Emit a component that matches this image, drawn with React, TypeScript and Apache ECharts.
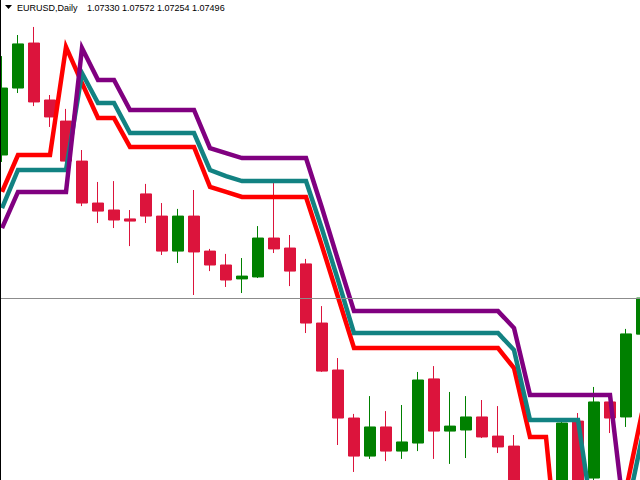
import React, { useEffect, useRef } from "react";
import * as echarts from "echarts";

// Daily EURUSD bars, oldest on the left (the last one is partly cut off at the right edge)
const openP = [
  1.08154, 1.08462, 1.08669, 1.08407, 1.08310, 1.08126, 1.07933, 1.07901, 1.07860, 1.07975,
  1.07873, 1.07712, 1.07873, 1.07712, 1.07648, 1.07584, 1.07593, 1.07772, 1.07726, 1.07653,
  1.07381, 1.07165, 1.06944, 1.06769, 1.06903, 1.06792, 1.06829, 1.07124, 1.06884, 1.06889,
  1.06949, 1.06861, 1.06815, 1.06567, 1.06429, 1.06383, 1.06930, 1.06668, 1.07018, 1.06949,
  1.07330,
];
const closeP = [
  1.08462, 1.08665, 1.08398, 1.08329, 1.08126, 1.07933, 1.07896, 1.07855, 1.07850, 1.07873,
  1.07712, 1.07873, 1.07708, 1.07648, 1.07579, 1.07597, 1.07772, 1.07722, 1.07620, 1.07381,
  1.07160, 1.06944, 1.06769, 1.06903, 1.06792, 1.06834, 1.07119, 1.06884, 1.06907, 1.06949,
  1.06857, 1.06811, 1.06567, 1.06429, 1.06383, 1.06921, 1.06636, 1.07018, 1.06944, 1.07331,
  1.07496,
];
const lowP = [
  1.08122, 1.08439, 1.08379, 1.08283, 1.08117, 1.07919, 1.07841, 1.07818, 1.07735, 1.07841,
  1.07694, 1.07657, 1.07510, 1.07620, 1.07547, 1.07519, 1.07588, 1.07703, 1.07551, 1.07335,
  1.07156, 1.06820, 1.06696, 1.06756, 1.06746, 1.06756, 1.06792, 1.06756, 1.06733, 1.06760,
  1.06852, 1.06783, 1.06521, 1.06360, 1.06291, 1.06346, 1.06590, 1.06636, 1.06875, 1.06903,
  1.07254,
];
const highP = [
  1.08609, 1.08706, 1.08743, 1.08430, 1.08366, 1.08177, 1.08030, 1.08034, 1.07901, 1.08021,
  1.07933, 1.07906, 1.07993, 1.07722, 1.07699, 1.07680, 1.07827, 1.08025, 1.07786, 1.07676,
  1.07459, 1.07220, 1.06963, 1.07045, 1.06976, 1.07004, 1.07156, 1.07183, 1.07064, 1.07045,
  1.07027, 1.06999, 1.06866, 1.06604, 1.06498, 1.06930, 1.06967, 1.07087, 1.07036, 1.07354,
  1.07572,
];

// Three trailing-stop bands
const redBand = [
  1.07984, 1.08154, 1.08154, 1.08154, 1.08651, 1.08485, 1.08324, 1.08324, 1.08191, 1.08191,
  1.08191, 1.08191, 1.08191, 1.08007, 1.07984, 1.07961, 1.07961, 1.07961, 1.07961, 1.07961,
  1.07735, 1.07501, 1.07266, 1.07266, 1.07266, 1.07266, 1.07266, 1.07266, 1.07266, 1.07266,
  1.07266, 1.07266, 1.07174, 1.06857, 1.06857, 1.06107, 1.06107, 1.06153, 1.06245, 1.06613,
  1.06967,
];
const tealBand = [
  1.07910, 1.08085, 1.08085, 1.08085, 1.08085, 1.08531, 1.08393, 1.08393, 1.08255, 1.08255,
  1.08255, 1.08255, 1.08255, 1.08085, 1.08057, 1.08034, 1.08034, 1.08034, 1.08034, 1.08034,
  1.07814, 1.07579, 1.07335, 1.07335, 1.07335, 1.07335, 1.07335, 1.07335, 1.07335, 1.07335,
  1.07335, 1.07335, 1.07257, 1.06935, 1.06935, 1.06935, 1.06935, 1.06443, 1.06199, 1.06498,
  1.06852,
];
const purpleBand = [
  1.07818, 1.07984, 1.07984, 1.07984, 1.07984, 1.08646, 1.08499, 1.08499, 1.08361, 1.08361,
  1.08361, 1.08361, 1.08361, 1.08186, 1.08163, 1.08140, 1.08140, 1.08140, 1.08140, 1.08140,
  1.07910, 1.07671, 1.07436, 1.07436, 1.07436, 1.07436, 1.07436, 1.07436, 1.07436, 1.07436,
  1.07436, 1.07436, 1.07358, 1.07050, 1.07050, 1.07050, 1.07050, 1.07050, 1.07050, 1.06429,
  1.06199,
];

const bidPrice = 1.07496;
const priceMin = 1.06659;
const priceMax = 1.08867;
const symbolLabel = "EURUSD,Daily";
const ohlcLabel = "1.07330 1.07572 1.07254 1.07496";

const barLabels = openP.map((_, i) => String(i + 1));

// the chart div is shifted left so that the first bar is centred at x = 2
const SHIFT = 6;

export default function App() {
  const ref = useRef<HTMLDivElement>(null);

  useEffect(() => {
    if (!ref.current) return;
    const chart = echarts.init(ref.current, undefined, { renderer: "svg" });
    const candles = openP.map((o, i) => [o, closeP[i], lowP[i], highP[i]]);
    const lineSeries = (data: number[], color: string) => ({
      type: "line",
      data,
      showSymbol: false,
      symbol: "none",
      silent: true,
      clip: true,
      lineStyle: { color, width: 4.5, join: "miter" },
      z: 3,
    });
    chart.setOption({
      animation: false,
      backgroundColor: "#ffffff",
      grid: { left: 0, right: 0, top: 0, bottom: 0, containLabel: false },
      xAxis: {
        type: "category",
        data: barLabels,
        boundaryGap: true,
        show: false,
      },
      yAxis: {
        type: "value",
        min: priceMin,
        max: priceMax,
        show: false,
        splitLine: { show: false },
      },
      series: [
        {
          type: "candlestick",
          data: candles,
          barWidth: 11,
          clip: true,
          itemStyle: {
            color: "#008000",
            color0: "#DC143C",
            borderColor: "#008000",
            borderColor0: "#DC143C",
            borderWidth: 1,
          },
          markLine: {
            silent: true,
            precision: 5,
            symbol: ["none", "none"],
            label: { show: false },
            lineStyle: { color: "#8c8c8c", width: 1, type: "solid" },
            data: [{ yAxis: bidPrice }],
          },
          z: 2,
        },
        lineSeries(redBand, "#ff0000"),
        lineSeries(tealBand, "#128282"),
        lineSeries(purpleBand, "#800080"),
      ],
      graphic: [
        {
          type: "rect",
          shape: { x: SHIFT, y: 0, width: 1, height: 480 },
          style: { fill: "#000000" },
          z: 10,
        },
        {
          type: "polygon",
          shape: { points: [[SHIFT + 5, 5], [SHIFT + 12, 5], [SHIFT + 8.5, 9]] },
          style: { fill: "#000000" },
          z: 10,
        },
        {
          type: "text",
          x: SHIFT + 17,
          y: 7.5,
          style: {
            text: symbolLabel,
            fill: "#000000",
            font: "9px 'Liberation Sans', Arial, sans-serif",
            verticalAlign: "middle",
            align: "left",
          },
          z: 10,
        },
        {
          type: "text",
          x: SHIFT + 87,
          y: 7.5,
          style: {
            text: ohlcLabel,
            fill: "#000000",
            font: "9px 'Liberation Sans', Arial, sans-serif",
            verticalAlign: "middle",
            align: "left",
          },
          z: 10,
        },
      ],
    });
    return () => chart.dispose();
  }, []);

  return (
    <div
      ref={ref}
      style={{
        position: "fixed",
        left: -SHIFT,
        top: 0,
        width: 656,
        height: 480,
        background: "#fff",
      }}
    />
  );
}
